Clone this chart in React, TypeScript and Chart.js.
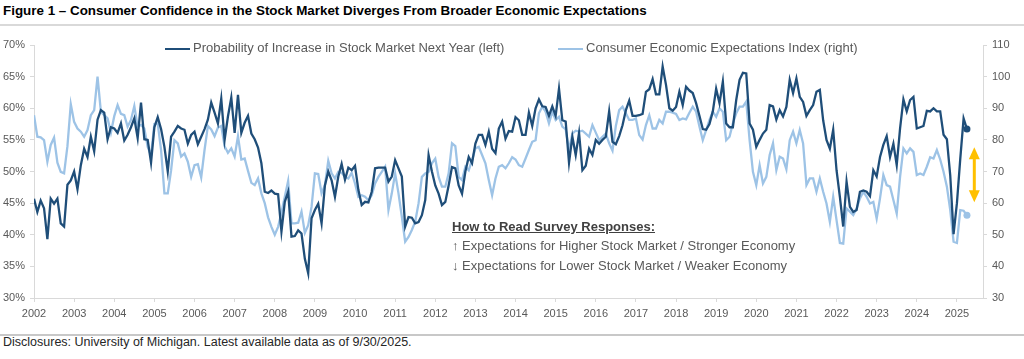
import React, { useEffect, useRef } from "react";
import { Chart, registerables } from "chart.js";

Chart.register(...registerables);

// ---------- data ----------
const START_YEAR = 2002;
const YEAR_LABELS = [
  2002, 2003, 2004, 2005, 2006, 2007, 2008, 2009, 2010, 2011, 2012, 2013,
  2014, 2015, 2016, 2017, 2018, 2019, 2020, 2021, 2022, 2023, 2024, 2025,
];

// Probability of Increase in Stock Market Next Year (left axis, %), monthly
const stockProb = [
  45.7, 43.6, 45.4, 44.2, 39.3, 45.7, 44.9, 45.7, 41.8, 41.3,
  47.9, 48.6, 50.0, 47.2, 51.0, 53.6, 52.3, 55.5, 53.2, 58.2,
  59.7, 59.3, 55.1, 57.0, 56.8, 56.1, 57.6, 54.9, 55.8, 57.0,
  58.4, 55.3, 60.9, 55.1, 55.0, 51.4, 57.0, 58.6, 56.7, 53.9,
  50.0, 55.5, 56.3, 57.2, 56.8, 56.6, 54.4, 55.8, 56.3, 54.3,
  55.5, 56.7, 58.2, 60.9, 59.3, 57.6, 61.5, 55.0, 58.7, 61.7,
  56.1, 62.1, 56.1, 57.7, 58.8, 56.0, 55.1, 53.8, 51.3, 46.8,
  46.6, 47.0, 46.5, 46.4, 40.5, 45.2, 46.8, 39.7, 39.8, 40.7,
  40.2, 36.2, 33.9, 42.6, 43.9, 44.9, 41.8, 47.8, 50.0, 48.6,
  46.0, 49.2, 51.2, 48.7, 50.6, 50.2, 50.9, 47.1, 44.7, 45.2,
  45.1, 46.8, 50.5, 50.6, 50.6, 50.6, 48.4, 49.2, 51.8, 50.5,
  49.2, 41.3, 42.8, 42.7, 41.8, 42.0, 43.1, 45.5, 52.6, 50.0,
  47.8, 46.5, 44.7, 45.2, 47.8, 50.7, 50.5, 47.8, 46.5, 50.0,
  52.3, 51.3, 54.4, 55.8, 55.8, 54.2, 56.3, 53.6, 52.9, 56.8,
  57.9, 55.2, 56.4, 56.3, 58.6, 58.1, 55.8, 55.8, 59.3, 57.2,
  60.0, 61.4, 60.3, 60.2, 58.8, 60.3, 58.8, 63.1, 58.1, 57.9,
  51.4, 55.5, 52.6, 56.1, 50.2, 50.9, 53.6, 52.6, 55.0, 54.4,
  55.0, 55.5, 59.5, 54.7, 54.3, 55.6, 57.3, 59.7, 61.2, 58.8,
  58.8, 58.9, 59.1, 62.6, 63.0, 64.6, 62.2, 62.2, 66.6, 63.7,
  60.0, 59.6, 60.2, 62.6, 60.5, 63.4, 62.8, 62.4, 60.8, 58.8,
  56.7, 56.6, 57.5, 59.5, 63.1, 60.8, 64.2, 57.6, 57.0, 57.0,
  61.3, 64.5, 65.6, 65.5, 57.6, 56.6, 53.9, 55.0, 56.0, 56.6,
  60.5, 60.3, 58.2, 59.7, 58.7, 60.2, 64.5, 62.4, 64.7, 61.8,
  61.0, 58.8, 59.7, 60.5, 62.6, 62.9, 58.1, 55.0, 53.6, 56.6,
  50.2, 46.0, 41.3, 48.4, 44.4, 43.6, 43.9, 46.8, 47.0, 46.8,
  46.1, 50.2, 49.2, 52.3, 54.2, 55.6, 52.3, 54.4, 51.0, 56.8,
  61.4, 59.5, 61.3, 61.8, 56.8, 57.0, 57.2, 59.6, 59.5, 60.0,
  59.5, 59.5, 55.8, 55.1, 49.4, 40.1, 45.0, 52.0, 58.4, 56.7,
];

// Consumer Economic Expectations Index (right axis), monthly
const econExp = [
  87.8, 81.0, 80.8, 79.9, 73.1, 78.4, 80.7, 72.8, 69.9, 69.4,
  78.0, 91.3, 85.7, 83.6, 82.6, 81.0, 83.1, 87.8, 89.4, 100.0,
  88.9, 87.8, 86.8, 82.3, 87.5, 91.0, 88.2, 87.8, 84.2, 86.3,
  90.7, 84.2, 84.7, 83.6, 77.8, 75.2, 85.0, 85.2, 76.8, 63.1,
  63.1, 70.4, 79.9, 78.9, 74.7, 75.7, 73.1, 68.3, 72.0, 72.3,
  68.1, 76.8, 84.4, 83.3, 81.2, 83.9, 84.4, 78.0, 75.9, 77.3,
  74.7, 81.2, 73.8, 74.1, 70.2, 66.4, 65.7, 67.8, 63.1, 60.0,
  55.5, 52.5, 50.0, 52.5, 57.0, 62.0, 67.0, 53.6, 53.6, 53.8,
  57.3, 50.6, 53.0, 58.8, 69.4, 69.2, 63.1, 65.7, 73.4, 69.4,
  67.8, 69.9, 69.6, 68.3, 67.8, 69.6, 66.2, 62.0, 62.5, 62.0,
  60.9, 62.5, 66.2, 68.3, 69.9, 71.5, 57.8, 63.1, 69.4, 63.1,
  55.7, 47.8, 49.3, 51.5, 54.1, 59.9, 68.3, 69.4, 69.9, 72.6,
  74.1, 68.3, 65.2, 65.2, 69.4, 78.9, 78.0, 68.3, 67.3, 71.5,
  70.4, 73.6, 77.3, 77.8, 75.2, 72.6, 67.3, 62.5, 67.8, 71.5,
  72.0, 71.0, 72.6, 74.5, 73.8, 72.0, 71.5, 74.1, 76.8, 79.4,
  79.9, 88.4, 90.5, 88.9, 85.2, 88.9, 86.3, 87.3, 84.2, 83.3,
  76.8, 82.0, 82.9, 82.6, 82.9, 82.0, 81.0, 84.7, 82.3, 79.9,
  81.0, 82.0, 78.9, 76.6, 84.4, 89.4, 90.5, 88.4, 86.3, 86.3,
  86.8, 81.5, 80.1, 84.7, 87.8, 83.6, 83.6, 86.3, 85.2, 88.9,
  88.9, 88.6, 88.2, 86.3, 86.8, 86.5, 88.6, 90.5, 88.9, 84.2,
  79.9, 83.1, 86.3, 88.9, 87.3, 90.0, 88.9, 79.9, 81.0, 85.2,
  88.4, 90.5, 90.5, 92.1, 79.9, 69.9, 65.7, 72.0, 66.2, 68.3,
  75.2, 78.9, 70.4, 74.7, 74.1, 70.7, 79.9, 82.6, 78.9, 83.1,
  78.9, 65.7, 67.8, 67.8, 63.6, 67.8, 63.6, 59.9, 54.1, 62.0,
  54.6, 47.4, 47.2, 58.3, 57.3, 56.2, 58.3, 61.5, 63.6, 62.0,
  59.9, 60.4, 55.1, 61.5, 68.9, 65.7, 65.2, 61.0, 56.7, 68.3,
  77.3, 75.7, 77.3, 76.2, 68.9, 69.4, 68.9, 71.5, 74.5, 74.1,
  76.8, 73.8, 69.9, 65.2, 57.8, 47.8, 47.4, 57.8, 57.6, 56.2,
];

const LEFT_MIN = 30, LEFT_MAX = 70, LEFT_STEP = 5;
const RIGHT_MIN = 30, RIGHT_MAX = 110, RIGHT_STEP = 10;
const X_MAX = 283.8; // months after Jan 2002 at right edge of plot

// gold double arrow (position in months index / right-axis units)
const ARROW_X = 281.2;
const ARROW_TOP = 77.7;
const ARROW_BOTTOM = 60.3;

const STOCK_LABEL = "Probability of Increase in Stock Market Next Year (left)";
const ECON_LABEL = "Consumer Economic Expectations Index (right)";

// ---------- styles ----------
const DARK = "#1f4e79";
const LIGHT = "#9dc3e6";
const GOLD = "#ffc000";
const AXIS = "#d9d9d9";
const TXT = "#595959";
const FONT = "'Liberation Sans', Arial, sans-serif";

const arrowPlugin = {
  id: "goldArrow",
  afterDatasetsDraw(chart: any) {
    const { ctx, scales } = chart;
    const x = scales.x.getPixelForValue(ARROW_X);
    const yT = scales.yR.getPixelForValue(ARROW_TOP);
    const yB = scales.yR.getPixelForValue(ARROW_BOTTOM);
    const hh = 12, hw = 5.5;
    ctx.save();
    ctx.strokeStyle = GOLD;
    ctx.fillStyle = GOLD;
    ctx.lineWidth = 3;
    ctx.beginPath();
    ctx.moveTo(x, yT + hh - 1);
    ctx.lineTo(x, yB - hh + 1);
    ctx.stroke();
    ctx.beginPath();
    ctx.moveTo(x, yT);
    ctx.lineTo(x + hw, yT + hh);
    ctx.lineTo(x - hw, yT + hh);
    ctx.closePath();
    ctx.fill();
    ctx.beginPath();
    ctx.moveTo(x, yB);
    ctx.lineTo(x + hw, yB - hh);
    ctx.lineTo(x - hw, yB - hh);
    ctx.closePath();
    ctx.fill();
    ctx.restore();
  },
};

export default function App() {
  const ref = useRef<HTMLCanvasElement>(null);

  useEffect(() => {
    document.body.style.margin = "0";
    const canvas = ref.current;
    if (!canvas) return;
    const nS = stockProb.length;
    const nE = econExp.length;
    const tickFont = { family: FONT, size: 11 };
    const chart = new Chart(canvas, {
      type: "line",
      data: {
        datasets: [
          {
            label: STOCK_LABEL,
            data: stockProb.map((v, i) => ({ x: i, y: v })),
            yAxisID: "yL",
            borderColor: DARK,
            backgroundColor: DARK,
            borderWidth: 2.3,
            tension: 0,
            pointRadius: (c: any) => (c.dataIndex === nS - 1 ? 3.5 : 0),
            pointBackgroundColor: DARK,
            pointBorderWidth: 0,
          },
          {
            label: ECON_LABEL,
            data: econExp.map((v, i) => ({ x: i, y: v })),
            yAxisID: "yR",
            borderColor: LIGHT,
            backgroundColor: LIGHT,
            borderWidth: 2.3,
            tension: 0,
            pointRadius: (c: any) => (c.dataIndex === nE - 1 ? 3.5 : 0),
            pointBackgroundColor: LIGHT,
            pointBorderWidth: 0,
          },
        ],
      },
      options: {
        responsive: false,
        animation: false,
        layout: { padding: { top: 45, left: 0, right: 0, bottom: 0 } },
        plugins: { legend: { display: false }, tooltip: { enabled: false } },
        scales: {
          x: {
            type: "linear",
            min: 0,
            max: X_MAX,
            afterBuildTicks: (s: any) => {
              s.ticks = YEAR_LABELS.map((_, i) => ({ value: i * 12 }));
            },
            afterFit: (s: any) => {
              s.height = 32;
            },
            ticks: {
              callback: (v: any) => String(START_YEAR + Math.round(Number(v) / 12)),
              autoSkip: false,
              maxRotation: 0,
              font: tickFont,
              color: TXT,
              padding: 5,
            },
            grid: { drawOnChartArea: false, tickLength: 4, color: AXIS },
            border: { color: AXIS, width: 1 },
          },
          yL: {
            position: "left",
            min: LEFT_MIN,
            max: LEFT_MAX,
            afterFit: (s: any) => {
              s.width = 34;
            },
            ticks: {
              stepSize: LEFT_STEP,
              callback: (v: any) => `${v}%`,
              font: tickFont,
              color: TXT,
              padding: 5,
            },
            grid: { drawOnChartArea: false, tickLength: 4, color: AXIS },
            border: { color: AXIS, width: 1 },
          },
          yR: {
            position: "right",
            min: RIGHT_MIN,
            max: RIGHT_MAX,
            afterFit: (s: any) => {
              s.width = 41;
            },
            ticks: {
              stepSize: RIGHT_STEP,
              font: tickFont,
              color: TXT,
              padding: 5,
            },
            grid: { drawOnChartArea: false, tickLength: 4, color: AXIS },
            border: { color: AXIS, width: 1 },
          },
        },
      },
      plugins: [arrowPlugin],
    } as any);
    return () => chart.destroy();
  }, []);

  const abs = (o: React.CSSProperties): React.CSSProperties => ({
    position: "absolute",
    whiteSpace: "nowrap",
    ...o,
  });

  return (
    <div
      style={{
        position: "relative",
        width: 1024,
        height: 359,
        overflow: "hidden",
        background: "#fff",
        fontFamily: FONT,
      }}
    >
      <div
        style={abs({
          left: 3,
          top: 3,
          height: 16,
          lineHeight: "16px",
          fontSize: 13.4,
          fontWeight: "bold",
          color: "#000",
        })}
      >
        Figure 1 – Consumer Confidence in the Stock Market Diverges From Broader Economic Expectations
      </div>
      <div style={abs({ left: 0, top: 24, width: 1024, height: 2, background: AXIS })} />

      <canvas
        ref={ref}
        width={1024}
        height={330}
        style={{ position: "absolute", left: 0, top: 0, width: 1024, height: 330 }}
      />

      {/* legend */}
      <div style={abs({ left: 165, top: 47.5, width: 25, height: 2.5, background: DARK })} />
      <div style={abs({ left: 193, top: 40, height: 16, lineHeight: "16px", fontSize: 13, color: TXT })}>
        {STOCK_LABEL}
      </div>
      <div style={abs({ left: 558, top: 47.5, width: 25, height: 2.5, background: LIGHT })} />
      <div style={abs({ left: 586, top: 40, height: 16, lineHeight: "16px", fontSize: 13, color: TXT })}>
        {ECON_LABEL}
      </div>

      {/* annotation */}
      <div
        style={abs({
          left: 452,
          top: 219,
          height: 16,
          lineHeight: "16px",
          fontSize: 13,
          fontWeight: "bold",
          color: "#404040",
          textDecoration: "underline",
        })}
      >
        How to Read Survey Responses:
      </div>
      <div style={abs({ left: 452, top: 238, height: 16, lineHeight: "16px", fontSize: 13, color: TXT })}>
        ↑ Expectations for Higher Stock Market / Stronger Economy
      </div>
      <div style={abs({ left: 452, top: 258, height: 16, lineHeight: "16px", fontSize: 13, color: TXT })}>
        ↓ Expectations for Lower Stock Market / Weaker Economy
      </div>

      {/* footer */}
      <div style={abs({ left: 0, top: 334, width: 1024, height: 1.5, background: "#c8c8c8" })} />
      <div style={abs({ left: 3, top: 334, height: 16, lineHeight: "16px", fontSize: 12.5, color: "#262626" })}>
        Disclosures: University of Michigan. Latest available data as of 9/30/2025.
      </div>
    </div>
  );
}
